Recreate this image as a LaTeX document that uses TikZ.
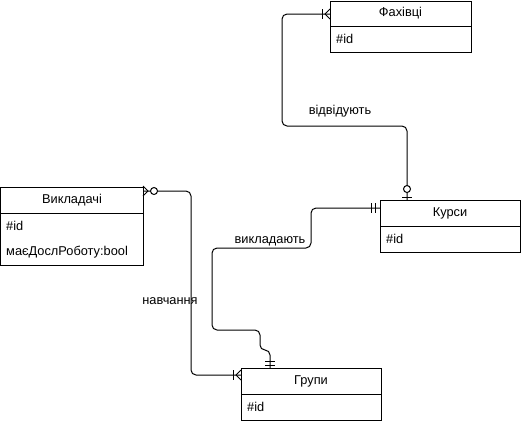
\documentclass[tikz,border=0pt]{standalone}
\usepackage{fontspec}
\setmainfont{Liberation Sans}
\usetikzlibrary{calc}
\begin{document}
\begin{tikzpicture}[x=1pt,y=-1pt,
  ent/.style={draw, line width=1pt, anchor=north west, inner sep=0pt, outer sep=0pt},
  txt/.style={font=\fontsize{12.8}{15}\selectfont, inner sep=0pt},
  attr/.style={txt, anchor=west},
  rel/.style={line width=1pt, rounded corners=5pt},
  mk/.style={line width=1pt},
  dot/.style={line width=1pt, fill=white}]
\useasboundingbox (0,0) rectangle (521,424);

% entities
\node[ent, minimum width=141, minimum height=51] (fah) at (330,1) {};
\draw[line width=1pt] ($(fah.north west)+(0,25)$) -- ($(fah.north east)+(0,25)$);
\node[txt] (fahT) at (400.5,13.5) {Фахівці};
\node[attr] (fahA) at (336,39) {\#id};

\node[ent, minimum width=140, minimum height=52] (kur) at (380,200) {};
\draw[line width=1pt] ($(kur.north west)+(0,26)$) -- ($(kur.north east)+(0,26)$);
\node[txt] (kurT) at (450,213) {Курси};
\node[attr] (kurA) at (386,239) {\#id};

\node[ent, minimum width=142.5, minimum height=78] (vyk) at (0.5,187) {};
\draw[line width=1pt] ($(vyk.north west)+(0,26)$) -- ($(vyk.north east)+(0,26)$);
\node[txt] (vykT) at (72,200) {Викладачі};
\node[attr] (vykA) at (6,226) {\#id};
\node[attr] (vykB) at (6,252) {маєДослРоботу:bool};

\node[ent, minimum width=140, minimum height=52] (gr) at (241,368) {};
\draw[line width=1pt] ($(gr.north west)+(0,26)$) -- ($(gr.north east)+(0,26)$);
\node[txt] (grT) at (311,381) {Групи};
\node[attr] (grA) at (247,407) {\#id};

% connector endpoints
\coordinate (c1a) at ($(fah.north west)+(0,13)$);
\coordinate (c1b) at (kur.north west -| 407,0);
\coordinate (c2a) at ($(kur.north west)+(0,8)$);
\coordinate (c2b) at (gr.north west -| 270,0);
\coordinate (c3a) at ($(vyk.north east)+(0,4)$);
\coordinate (c3b) at ($(gr.north west)+(0,7)$);

% connectors
\draw[rel] (c1a) -- (282,14) -- (282,126) -- (407,126) -- (c1b);
\draw[rel] (c2a) -- (311,208) -- (311,248) -- (212,248) -- (212,330) -- (260,330) -- (260,350) -- (270,350) -- (c2b);
\draw[rel] (c3a) -- (191,191) -- (191,375) -- (c3b);

% markers: Фахівці (one or many)
\draw[mk] ($(c1a)+(-8,-5)$) -- ($(c1a)+(-8,5)$);
\draw[mk] ($(c1a)+(0,-5)$) -- ($(c1a)+(-5,0)$) -- ($(c1a)+(0,5)$);
% Курси (zero or one)
\draw[mk] ($(c1b)+(-5,-3)$) -- ($(c1b)+(5,-3)$);
\draw[dot] ($(c1b)+(0,-11)$) circle (3.5);
% Курси (mandatory one)
\draw[mk] ($(c2a)+(-9,-5)$) -- ($(c2a)+(-9,5)$);
\draw[mk] ($(c2a)+(-5,-5)$) -- ($(c2a)+(-5,5)$);
% Групи (mandatory one)
\draw[mk] ($(c2b)+(-5,-7)$) -- ($(c2b)+(5,-7)$);
\draw[mk] ($(c2b)+(-5,-3)$) -- ($(c2b)+(5,-3)$);
% Викладачі (zero or many)
\draw[mk] ($(c3a)+(0,-5)$) -- ($(c3a)+(5,0)$) -- ($(c3a)+(0,5)$);
\draw[dot] ($(c3a)+(11,0)$) circle (3.5);
% Групи (one or many)
\draw[mk] ($(c3b)+(-8,-5)$) -- ($(c3b)+(-8,5)$);
\draw[mk] ($(c3b)+(0,-5)$) -- ($(c3b)+(-5,0)$) -- ($(c3b)+(0,5)$);

% labels
\node[txt] (l1) at (340,111) {відвідують};
\node[txt] (l2) at (270,241) {викладають};
\node[txt] (l3) at (170,301) {навчання};
\end{tikzpicture}
\end{document}
